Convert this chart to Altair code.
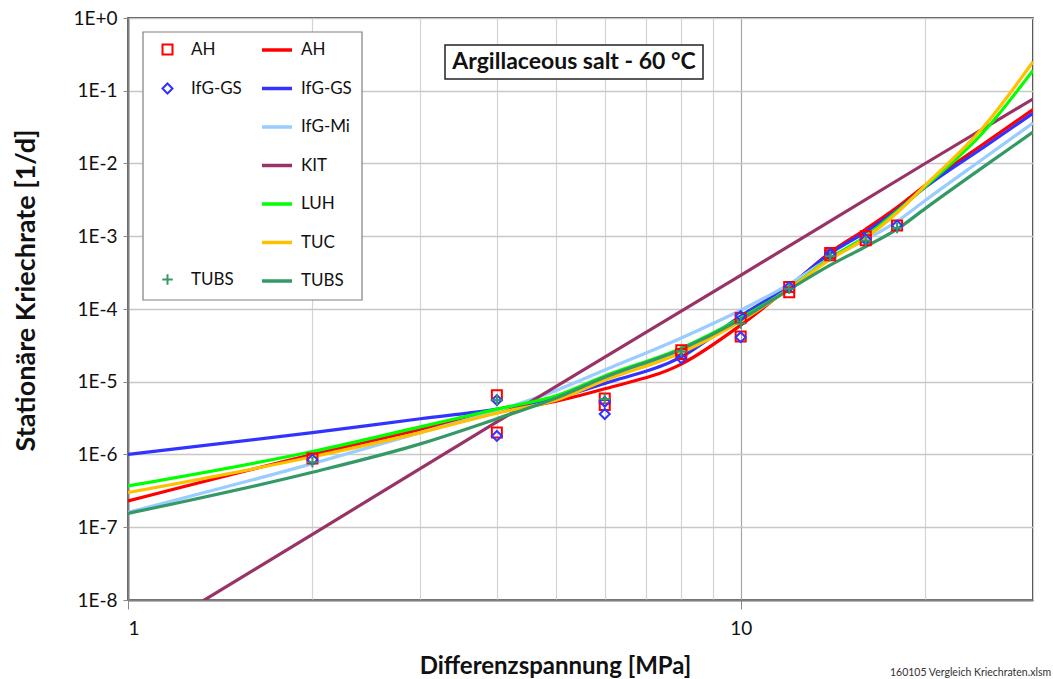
import altair as alt
import pandas as pd

# ---- model curves: differential stress [MPa] vs. steady-state creep rate [1/d]
stress_grid = [1, 2, 3, 4, 5, 6, 8, 10, 12, 14, 16, 18, 20, 25, 30]
ah_curve = [2.3e-7, 1.0e-6, 2.2e-6, 3.8e-6, 5.4e-6, 8.0e-6, 1.75e-5, 6.0e-5,
            2.0e-4, 6.0e-4, 1.25e-3, 2.5e-3, 5.0e-3, 1.9e-2, 5.5e-2]
ifg_gs_curve = [1.0e-6, 2.0e-6, 3.1e-6, 4.2e-6, 6.0e-6, 9.5e-6, 2.2e-5, 8.0e-5,
                2.1e-4, 5.8e-4, 1.15e-3, 2.3e-3, 4.7e-3, 1.7e-2, 4.9e-2]
ifg_mi_curve = [1.6e-7, 7.5e-7, 2.0e-6, 4.0e-6, 7.6e-6, 1.45e-5, 4.0e-5, 9.6e-5,
                2.2e-4, 5.0e-4, 9.0e-4, 1.6e-3, 3.1e-3, 1.2e-2, 3.6e-2]
luh_curve = [3.7e-7, 1.1e-6, 2.4e-6, 4.2e-6, 6.4e-6, 1.2e-5, 2.9e-5, 7.5e-5,
             1.9e-4, 5.0e-4, 1.0e-3, 2.2e-3, 4.8e-3, 2.8e-2, 1.9e-1]
tuc_curve = [3.0e-7, 9.3e-7, 2.0e-6, 3.7e-6, 5.6e-6, 1.05e-5, 2.5e-5, 6.8e-5,
             1.9e-4, 4.8e-4, 9.5e-4, 2.1e-3, 5.0e-3, 3.3e-2, 2.5e-1]
tubs_curve = [1.55e-7, 5.7e-7, 1.4e-6, 3.1e-6, 6.0e-6, 1.15e-5, 2.8e-5, 7.2e-5,
              1.85e-4, 4.0e-4, 7.2e-4, 1.25e-3, 2.4e-3, 9.2e-3, 2.7e-2]
kit_stress = [1, 2, 4, 10, 20, 30]
kit_curve = [2.3e-9, 8.0e-8, 2.8e-6, 2.9e-4, 1.0e-2, 7.7e-2]

# ---- laboratory results
ah_stress = [2, 4, 4, 6, 6, 8, 8, 10, 10, 12, 12, 14, 14, 16, 16, 18]
ah_rate = [8.8e-7, 6.5e-6, 2.0e-6, 5.9e-6, 4.8e-6, 2.7e-5, 2.4e-5, 7.5e-5,
           4.2e-5, 1.7e-4, 2.0e-4, 5.9e-4, 5.5e-4, 1.0e-3, 8.8e-4, 1.4e-3]
ifg_stress = [2, 4, 4, 6, 6, 8, 10, 10, 12, 14, 16, 18]
ifg_rate = [8.5e-7, 5.6e-6, 1.8e-6, 5.3e-6, 3.6e-6, 2.1e-5, 8.0e-5, 4.1e-5,
            2.0e-4, 5.7e-4, 9.0e-4, 1.4e-3]
tubs_stress = [2, 4, 6, 8, 10, 12, 14, 16, 18]
tubs_rate = [7.8e-7, 5.6e-6, 5.8e-6, 2.6e-5, 6.3e-5, 1.9e-4, 5.3e-4, 8.7e-4, 1.3e-3]

models = ["AH", "IfG-GS", "IfG-Mi", "KIT", "LUH", "TUC", "TUBS"]
model_colors = ["#FF0000", "#3333FF", "#99CCFF", "#993366", "#00FF00", "#FFC000", "#339966"]

chart_title = "Argillaceous salt - 60 °C"
x_title = "Differenzspannung [MPa]"
y_title = "Stationäre Kriechrate [1/d]"
file_note = "160105 Vergleich Kriechraten.xlsm"

FONT = "Lato"

# ---- long-form table of the model curves
curve_map = {
    "AH": (stress_grid, ah_curve),
    "IfG-GS": (stress_grid, ifg_gs_curve),
    "IfG-Mi": (stress_grid, ifg_mi_curve),
    "KIT": (kit_stress, kit_curve),
    "LUH": (stress_grid, luh_curve),
    "TUC": (stress_grid, tuc_curve),
    "TUBS": (stress_grid, tubs_curve),
}
rows = []
for m in models:
    xs, ys = curve_map[m]
    for xv, yv in zip(xs, ys):
        rows.append({"model": m, "stress": xv, "rate": yv})
curves = pd.DataFrame(rows)

lab_a = pd.DataFrame(
    {"lab": ["AH"] * len(ah_stress) + ["IfG-GS"] * len(ifg_stress),
     "stress": ah_stress + ifg_stress,
     "rate": ah_rate + ifg_rate}
)
lab_b = pd.DataFrame({"lab": ["TUBS"] * len(tubs_stress), "stress": tubs_stress, "rate": tubs_rate})

x_scale = alt.Scale(type="log", domain=[1, 30], nice=False)
y_scale = alt.Scale(type="log", domain=[1e-8, 1], nice=False)

x_axis = alt.Axis(
    title=x_title,
    values=[1, 2, 3, 4, 5, 6, 7, 8, 9, 10, 20, 30],
    labelExpr="datum.value == 1 ? '1' : (datum.value == 10 ? '10' : '')",
    labelFont=FONT, labelFontSize=19, labelColor="#111", labelPadding=10,
    tickOpacity={"condition": {"test": "datum.value == 1 || datum.value == 10", "value": 1}, "value": 0},
    tickSize=9, tickColor="#888", tickWidth=1,
    gridColor={"condition": {"test": "datum.value == 10", "value": "#a6a6a6"}, "value": "#d4d4d4"},
    gridWidth=1.2,
    domainColor="#7f7f7f", domainWidth=2,
    titleFont=FONT, titleFontSize=24, titleFontWeight="bold", titleColor="#111",
    titleX=427, titleY=66, titleBaseline="middle", titleAnchor="middle",
)
y_axis = alt.Axis(
    title=y_title,
    values=[1e-8, 1e-7, 1e-6, 1e-5, 1e-4, 1e-3, 1e-2, 1e-1, 1],
    labelExpr="datum.value >= 1 ? '1E+0' : '1E-' + round(-log(datum.value) / LN10)",
    labelFont=FONT, labelFontSize=19, labelColor="#111", labelPadding=6,
    tickSize=5, tickColor="#888",
    gridColor="#c8c8c8", gridWidth=1.5,
    domainColor="#7f7f7f", domainWidth=2,
    titleFont=FONT, titleFontSize=27, titleFontWeight="bold", titleColor="#111",
    titleX=-102, titleY=272, titleBaseline="middle", titleAnchor="middle",
)

# legend frame and the boxed caption inside the plot
frame = alt.Chart(pd.DataFrame({"k": [0]})).mark_rect(
    fill="white", stroke="#7f7f7f", strokeWidth=1.2
).encode(x=alt.value(15), x2=alt.value(234), y=alt.value(14), y2=alt.value(282))

caption_box = alt.Chart(pd.DataFrame({"k": [0]})).mark_rect(
    fill="white", stroke="#222", strokeWidth=1.5
).encode(x=alt.value(317), x2=alt.value(575), y=alt.value(27), y2=alt.value(61))

caption = alt.Chart(pd.DataFrame({"t": [chart_title]})).mark_text(
    font=FONT, fontSize=23, fontWeight="bold", color="#111", align="center", baseline="middle"
).encode(x=alt.value(446), y=alt.value(44), text="t:N")

note = alt.Chart(pd.DataFrame({"t": [file_note]})).mark_text(
    font=FONT, fontSize=10.5, color="#333", align="left", baseline="alphabetic"
).encode(x=alt.value(762), y=alt.value(658), text="t:N")

lines = alt.Chart(curves).mark_line(strokeWidth=3.2, interpolate="monotone", clip=True).encode(
    x=alt.X("stress:Q", scale=x_scale, axis=x_axis),
    y=alt.Y("rate:Q", scale=y_scale, axis=y_axis),
    color=alt.Color(
        "model:N",
        scale=alt.Scale(domain=models, range=model_colors),
        legend=alt.Legend(
            title=None, orient="none", legendX=132, legendY=15,
            symbolType="stroke", symbolSize=900, symbolStrokeWidth=3.5,
            labelFont=FONT, labelFontSize=17, labelColor="#111",
            labelOffset=7, rowPadding=13.5, padding=0,
        ),
    ),
    detail="model:N",
)

pts_a = alt.Chart(lab_a).mark_point(filled=False, strokeWidth=2, size=100, opacity=1, clip=True).encode(
    x=alt.X("stress:Q", scale=x_scale),
    y=alt.Y("rate:Q", scale=y_scale),
    shape=alt.Shape(
        "lab:N",
        scale=alt.Scale(domain=["AH", "IfG-GS"], range=["square", "diamond"]),
        legend=alt.Legend(
            title=None, orient="none", legendX=31, legendY=23,
            symbolSize=100, symbolStrokeWidth=2, symbolOpacity=1,
            labelFont=FONT, labelFontSize=17, labelColor="#111",
            labelOffset=15, rowPadding=20, padding=0,
        ),
    ),
    stroke=alt.Stroke(
        "lab:N",
        scale=alt.Scale(domain=["AH", "IfG-GS"], range=["#FF0000", "#3333FF"]),
        legend=None,
    ),
)

pts_b = alt.Chart(lab_b).mark_point(filled=False, strokeWidth=2, size=110, opacity=1, clip=True).encode(
    x=alt.X("stress:Q", scale=x_scale),
    y=alt.Y("rate:Q", scale=y_scale),
    shape=alt.Shape(
        "lab:N",
        scale=alt.Scale(domain=["TUBS"], range=["M-1,0L1,0M0,-1L0,1"]),
        legend=alt.Legend(
            title=None, orient="none", legendX=31, legendY=253,
            symbolSize=110, symbolStrokeWidth=2, symbolOpacity=1,
            labelFont=FONT, labelFontSize=17, labelColor="#111",
            labelOffset=15, padding=0,
        ),
    ),
    stroke=alt.Stroke(
        "lab:N",
        scale=alt.Scale(domain=["TUBS"], range=["#339966"]),
        legend=None,
    ),
)

chart = (
    alt.layer(frame, caption_box, caption, lines, pts_a, pts_b, note)
    .resolve_scale(shape="independent", stroke="independent")
    .resolve_legend(shape="independent", stroke="independent")
    .properties(
        width=905, height=582,
        autosize=alt.AutoSizeParams(type="none"),
        padding={"left": 128, "top": 18, "right": 20, "bottom": 79},
        background="white",
    )
    .configure_view(stroke="#111", strokeWidth=1.5)
)

chart.save("out.html", embed_options={"renderer": "svg", "actions": False})
